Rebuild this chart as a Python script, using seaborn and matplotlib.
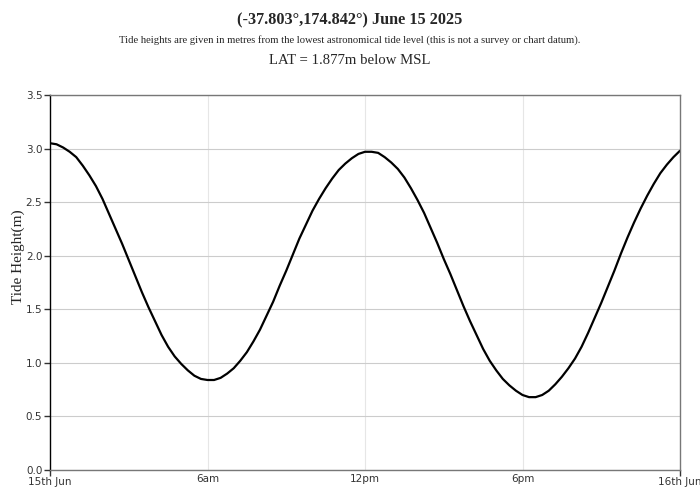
import pandas as pd
import matplotlib.pyplot as plt
import seaborn as sns

# ========= DATA ==========
# hours after midnight, 15th Jun, in quarter-hour steps
hours = [i * 0.25 for i in range(97)]
# tide height (m above LAT)
height_m = [3.05, 3.04, 3.01, 2.97, 2.92, 2.84, 2.75, 2.65,
            2.53, 2.39, 2.25, 2.11, 1.96, 1.81, 1.66, 1.52,
            1.39, 1.26, 1.15, 1.06, 0.99, 0.93, 0.88, 0.85,
            0.84, 0.84, 0.86, 0.90, 0.95, 1.02, 1.10, 1.20,
            1.31, 1.44, 1.57, 1.72, 1.86, 2.01, 2.16, 2.29,
            2.42, 2.53, 2.63, 2.72, 2.80, 2.86, 2.91, 2.95,
            2.97, 2.97, 2.96, 2.92, 2.87, 2.81, 2.73, 2.63,
            2.52, 2.40, 2.26, 2.12, 1.97, 1.83, 1.68, 1.53,
            1.39, 1.26, 1.13, 1.02, 0.93, 0.85, 0.79, 0.74,
            0.70, 0.68, 0.68, 0.70, 0.74, 0.80, 0.87, 0.95,
            1.04, 1.15, 1.28, 1.42, 1.56, 1.71, 1.86, 2.02,
            2.17, 2.31, 2.44, 2.56, 2.67, 2.77, 2.85, 2.92,
            2.98]

day_ticks = [0, 24]
day_labels = ["15th Jun", "16th Jun"]
hour_ticks = [6, 12, 18]
hour_labels = ["6am", "12pm", "6pm"]
y_ticks = [0.0, 0.5, 1.0, 1.5, 2.0, 2.5, 3.0, 3.5]

df = pd.DataFrame({"hour": hours, "height": height_m})

# ========= FIGURE ==========
sns.set_style("white")
serif = ["Liberation Serif", "DejaVu Serif"]
plt.rcParams["font.family"] = ["DejaVu Sans"]

fig = plt.figure(figsize=(7, 5), dpi=100)
ax = fig.add_axes([50 / 700, 30 / 500, 630 / 700, 375 / 500])

sns.lineplot(data=df, x="hour", y="height", color="black", linewidth=1.6, ax=ax)

ax.set_xlim(0, 24)
ax.set_ylim(0, 3.5)
ax.set_yticks(y_ticks)
ax.set_yticklabels([f"{v:.1f}" for v in y_ticks])
ax.set_xticks(day_ticks)
ax.set_xticklabels(day_labels)
ax.set_xticks(hour_ticks, minor=True)
ax.set_xticklabels(hour_labels, minor=True)

ax.tick_params(axis="y", which="major", length=4, width=1, color="#333333",
               labelsize=7.5, labelcolor="#333333", pad=1.5, left=True)
ax.tick_params(axis="x", which="major", length=4, width=1, color="#333333",
               labelsize=7.5, labelcolor="#333333", pad=1, bottom=True)
ax.tick_params(axis="x", which="minor", length=0, labelsize=7.5,
               labelcolor="#333333", pad=3)

ax.grid(False)
ax.grid(True, axis="y", which="major", color="#cccccc", linewidth=0.8)
ax.grid(True, axis="x", which="minor", color="#e6e6e6", linewidth=0.8)

for side in ["top", "right", "bottom"]:
    ax.spines[side].set_color("#777777")
    ax.spines[side].set_linewidth(1)
ax.spines["left"].set_color("black")
ax.spines["left"].set_linewidth(1)

ax.set_xlabel("")
ax.set_ylabel("Tide Height(m)", family=serif, fontsize=11)
ax.yaxis.set_label_coords(-25 / 630, (470 - 257) / 375)

fig.text(0.5, 1 - 20 / 500, "(-37.803°,174.842°) June 15 2025", family=serif,
         fontsize=11.7, fontweight="bold", ha="center", va="center")
fig.text(0.5, 1 - 40 / 500,
         "Tide heights are given in metres from the lowest astronomical tide level "
         "(this is not a survey or chart datum).",
         family=serif, fontsize=7.7, ha="center", va="center")
fig.text(0.5, 1 - 60 / 500, "LAT = 1.877m below MSL", family=serif,
         fontsize=10.6, ha="center", va="center")

fig.savefig("out.png", dpi=100)
